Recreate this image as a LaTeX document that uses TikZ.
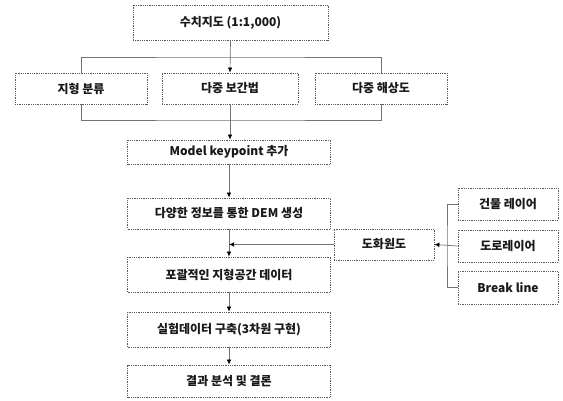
\documentclass[tikz,border=0pt]{standalone}
\usepackage{fontspec}
\setmainfont{Noto Sans CJK KR}
\usetikzlibrary{arrows.meta}
\begin{document}
\begin{tikzpicture}[x=1pt,y=-1pt,
  box/.style={draw=black!65, densely dotted, line width=0.8pt, inner sep=0pt,
    font=\fontsize{12}{14}\selectfont\bfseries, text=black!90},
  link/.style={draw=black!55, line width=0.7pt},
  arr/.style={link, -{Latex[length=5pt,width=4.5pt,black]}}]
\useasboundingbox (0,0) rectangle (563,401);
\fill[white] (0,0) rectangle (563,401);
% nodes
\node[box, minimum width=195pt, minimum height=35pt] (top) at (230.5,22.5) {수치지도 (1:1,000)};
\node[box, minimum width=132pt, minimum height=31pt] (A) at (81,88.5) {지형 분류};
\node[box, minimum width=136pt, minimum height=31pt] (B) at (230,88.5) {다중 보간법};
\node[box, minimum width=132pt, minimum height=31pt] (C) at (381,88.5) {다중 해상도};
\node[box, minimum width=203pt, minimum height=24pt] (model) at (229,152) {Model keypoint 추가};
\node[box, minimum width=203pt, minimum height=31pt] (dem) at (229,213.5) {다양한 정보를 통한 DEM 생성};
\node[box, minimum width=203pt, minimum height=35pt] (geo) at (229,274.5) {포괄적인 지형공간 데이터};
\node[box, minimum width=203pt, minimum height=35pt] (exp) at (229,329.5) {실험데이터 구축(3차원 구현)};
\node[box, minimum width=203pt, minimum height=32pt] (res) at (229,381) {결과 분석 및 결론};
\node[box, minimum width=100pt, minimum height=31pt] (doh) at (384,244.5) {도화원도};
\node[box, minimum width=100pt, minimum height=32pt] (bld) at (508,204) {건물 레이어};
\node[box, minimum width=100pt, minimum height=32pt] (road) at (508,246) {도로레이어};
\node[box, minimum width=100pt, minimum height=33pt] (brk) at (508,287.5) {Break line};
% connectors
\coordinate (tb) at (230,57);
\coordinate (bb) at (230,120);
\coordinate (br) at (447,246);
\draw[arr] (top.south) -- (B.north);
\draw[link] (A.north) |- (tb) -| (C.north);
\draw[link] (A.south) |- (bb) -| (C.south);
\draw[arr] (B.south) -- (B.south |- model.north);
\draw[arr] (model) -- (dem);
\draw[arr] (dem) -- (geo);
\draw[arr] (geo) -- (exp);
\draw[arr] (exp) -- (res);
\draw[arr] (doh.west) -- (dem.south |- doh.west);
\draw[link] (bld.west) -| (br) |- (brk.west);
\draw[arr] (road.west) -- (doh.east);
\end{tikzpicture}
\end{document}
